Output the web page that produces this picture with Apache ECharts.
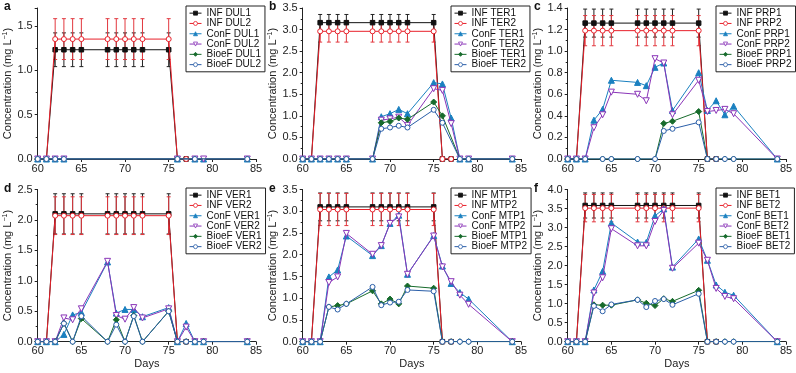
<!DOCTYPE html>
<html>
<head>
<meta charset="utf-8">
<script src="https://cdn.jsdelivr.net/npm/echarts@6/dist/echarts.min.js"></script>
<style>
  html, body { margin: 0; padding: 0; background: #fff; }
  #chart { width: 796px; height: 373px; }
</style>
</head>
<body>
<div id="chart"></div>
<script>
// sampling days
const infDays = [60, 61, 62, 63, 64, 65, 68, 69, 70, 71, 72, 75, 76, 77];
const errDays = [62, 63, 64, 65, 68, 69, 70, 71, 72, 75];
const effDays = [60, 61, 62, 63, 64, 65, 68, 69, 70, 71, 72, 75, 76, 77, 78, 79, 84];
const n = null;

// a - DUL
const infDUL1 = [0, 0, 1.23, 1.23, 1.23, 1.23, 1.23, 1.23, 1.23, 1.23, 1.23, 1.23, 0, 0];
const infDUL2 = [0, 0, 1.35, 1.35, 1.35, 1.35, 1.35, 1.35, 1.35, 1.35, 1.35, 1.35, 0, 0];
const sdDUL = [0.19, 0.23];
const conDUL1 = [0, 0, 0, 0, n, n, n, n, n, n, n, n, 0, n, 0, 0, 0];
const conDUL2 = [0, 0, 0, 0, n, n, n, n, n, n, n, n, 0, n, 0, 0, 0];
const bioDUL1 = [0, 0, 0, 0, n, n, n, n, n, n, n, n, 0, n, 0, n, 0];
const bioDUL2 = [0, 0, 0, 0, n, n, n, n, n, n, n, n, 0, n, 0, n, 0];

// b - TER
const infTER1 = [0, 0, 3.16, 3.16, 3.16, 3.16, 3.16, 3.16, 3.16, 3.16, 3.16, 3.16, 0, 0];
const infTER2 = [0, 0, 2.96, 2.96, 2.96, 2.96, 2.96, 2.96, 2.96, 2.96, 2.96, 2.96, 0, 0];
const sdTER = [0.19, 0.25];
const conTER1 = [0, 0, 0, 0, 0, 0, 0, 0.98, 1.05, 1.15, 1.05, 1.77, 1.74, 0.95, 0, 0, 0];
const conTER2 = [0, 0, 0, 0, 0, 0, 0, 0.90, 0.93, 0.97, 0.78, 1.63, 1.59, 0.82, 0, 0, 0];
const bioTER1 = [0, 0, 0, 0, 0, 0, 0, 0.84, 0.87, 0.95, 0.92, 1.32, 1.00, n, 0, 0, 0];
const bioTER2 = [0, 0, 0, 0, 0, 0, 0, 0.70, 0.73, 0.77, 0.73, 1.14, 0.84, n, 0, 0, 0];

// c - PRP
const infPRP1 = [0, 0, 1.26, 1.26, 1.26, 1.26, 1.26, 1.26, 1.26, 1.26, 1.26, 1.26, 0, 0];
const infPRP2 = [0, 0, 1.19, 1.19, 1.19, 1.19, 1.19, 1.19, 1.19, 1.19, 1.19, 1.19, 0, 0];
const sdPRP = [0.13, 0.14];
const conPRP1 = [0, 0, 0, 0.36, 0.46, 0.73, 0.71, 0.68, 0.85, 0.89, 0.45, 0.80, 0.45, 0.54, 0.41, 0.49, 0];
const conPRP2 = [0, 0, 0, 0.29, 0.41, 0.62, 0.60, 0.54, 0.93, 0.89, 0.41, 0.73, 0.44, 0.45, 0.46, 0.42, 0];
const bioPRP1 = [0, 0, 0, n, 0, 0, 0, n, 0, 0.33, 0.35, 0.44, 0, 0, 0, 0, 0];
const bioPRP2 = [0, 0, 0, n, 0, 0, 0, n, 0, 0.26, 0.28, 0.34, 0, 0, 0, 0, 0];

// d - VER
const infVER1 = [0, 0, 2.10, 2.10, 2.10, 2.10, 2.10, 2.10, 2.10, 2.10, 2.10, 2.10, 0, 0];
const infVER2 = [0, 0, 2.07, 2.07, 2.07, 2.07, 2.07, 2.07, 2.07, 2.07, 2.07, 2.07, 0, 0];
const sdVER = [0.33, 0.31];
const conVER1 = [0, 0, 0, 0.12, 0.44, 0.48, 1.31, 0.47, 0.53, 0.53, 0.41, 0.56, 0, 0.30, 0, 0, 0];
const conVER2 = [0, 0, 0, 0.39, 0.36, 0.54, 1.32, 0.43, 0.37, 0.56, 0.39, 0.54, 0, 0.24, 0, 0, 0];
const bioVER1 = [0, 0, 0, 0.30, 0, 0.38, 0, 0.36, 0, 0.43, 0, 0.50, 0, 0, 0, 0, 0];
const bioVER2 = [0, 0, 0, 0.30, 0, 0.42, 0, 0.28, 0, 0.42, 0, 0.50, 0, 0, 0, 0, 0];

// e - MTP
const infMTP1 = [0, 0, 3.10, 3.10, 3.10, 3.10, 3.10, 3.10, 3.10, 3.10, 3.10, 3.10, 0, 0];
const infMTP2 = [0, 0, 3.04, 3.04, 3.04, 3.04, 3.04, 3.04, 3.04, 3.04, 3.04, 3.04, 0, 0];
const sdMTP = [0.32, 0.37];
const conMTP1 = [0, 0, 0, 1.49, 1.65, 2.43, 1.98, 2.21, 2.72, 2.91, 1.55, 2.44, 1.74, 1.34, 1.13, 0.98, 0];
const conMTP2 = [0, 0, 0, 1.36, 1.49, 2.49, 2.01, 2.21, 2.72, 2.87, 1.55, 2.43, 1.72, 1.38, 1.07, 0.86, 0];
const bioMTP1 = [0, 0, 0, 0.80, 0.83, 0.87, 1.17, 0.87, 0.98, 0.87, 1.28, 1.23, 0, 0, 0, 0, 0];
const bioMTP2 = [0, 0, 0, 0.80, 0.74, 0.87, 1.26, 0.84, 0.90, 0.92, 1.19, 1.16, 0, 0, 0, 0, 0];

// f - BET
const infBET1 = [0, 0, 3.58, 3.58, 3.58, 3.58, 3.58, 3.58, 3.58, 3.58, 3.58, 3.58, 0, 0];
const infBET2 = [0, 0, 3.51, 3.51, 3.51, 3.51, 3.51, 3.51, 3.51, 3.51, 3.51, 3.51, 0, 0];
const sdBET = [0.33, 0.36];
const conBET1 = [0, 0, 0, 1.36, 1.85, 3.12, 2.62, 2.61, 3.31, 3.49, 1.96, 2.70, 2.14, 1.49, 1.30, 1.22, 0];
const conBET2 = [0, 0, 0, 1.28, 1.68, 2.97, 2.52, 2.52, 3.16, 3.45, 1.93, 2.59, 2.14, 1.40, 1.19, 1.13, 0];
const bioBET1 = [0, 0, 0, 0.97, 0.96, 0.96, 1.10, 1.01, 0.95, 1.13, 1.06, 1.35, 0, 0, 0, 0, 0];
const bioBET2 = [0, 0, 0, 0.94, 0.80, 0.98, 1.10, 0.91, 1.07, 1.12, 0.97, 1.26, 0, 0, 0, 0, 0];

const panels = [
  { tag: 'DUL', letter: 'a', ymax: 1.7, yint: 0.5, inf: [infDUL1, infDUL2], sd: sdDUL, eff: [conDUL1, conDUL2, bioDUL1, bioDUL2] },
  { tag: 'TER', letter: 'b', ymax: 3.5, yint: 0.5, inf: [infTER1, infTER2], sd: sdTER, eff: [conTER1, conTER2, bioTER1, bioTER2] },
  { tag: 'PRP', letter: 'c', ymax: 1.4, yint: 0.2, inf: [infPRP1, infPRP2], sd: sdPRP, eff: [conPRP1, conPRP2, bioPRP1, bioPRP2] },
  { tag: 'VER', letter: 'd', ymax: 2.5, yint: 0.5, inf: [infVER1, infVER2], sd: sdVER, eff: [conVER1, conVER2, bioVER1, bioVER2] },
  { tag: 'MTP', letter: 'e', ymax: 3.5, yint: 0.5, inf: [infMTP1, infMTP2], sd: sdMTP, eff: [conMTP1, conMTP2, bioMTP1, bioMTP2] },
  { tag: 'BET', letter: 'f', ymax: 4.0, yint: 0.5, inf: [infBET1, infBET2], sd: sdBET, eff: [conBET1, conBET2, bioBET1, bioBET2] }
];

const FONT = 'Liberation Sans, Arial, sans-serif';
const invTri = 'path://M0,0 L10,0 L5,9 Z';

// INF1, INF2, ConF1, ConF2, BioeF1, BioeF2
const styles = [
  { color: '#111111', symbol: 'rect', size: 4.5, fill: '#111111' },
  { color: '#e8202a', symbol: 'circle', size: 5, fill: '#ffffff' },
  { color: '#1a80c0', symbol: 'triangle', size: 6, fill: '#1a80c0' },
  { color: '#8a35b8', symbol: invTri, size: 6, fill: '#ffffff' },
  { color: '#176b2c', symbol: 'diamond', size: 6, fill: '#176b2c' },
  { color: '#2a5ea8', symbol: 'circle', size: 5, fill: '#ffffff' }
];

const plotLeft = [37.7, 302.7, 567.7];
const plotW = 218.3;
const rowTop = [8, 189.5];
const rowH = [151, 152.2];
const legLeft = [186, 451, 716];
const legTop = [6, 188];

function errorItem(color) {
  return function (params, api) {
    const x = api.value(0);
    const lo = api.coord([x, api.value(1)]);
    const hi = api.coord([x, api.value(2)]);
    const style = { stroke: color, lineWidth: 1 };
    return {
      type: 'group',
      children: [
        { type: 'line', shape: { x1: lo[0], y1: lo[1], x2: hi[0], y2: hi[1] }, style: style },
        { type: 'line', shape: { x1: hi[0] - 2, y1: hi[1], x2: hi[0] + 2, y2: hi[1] }, style: style },
        { type: 'line', shape: { x1: lo[0] - 2, y1: lo[1], x2: lo[0] + 2, y2: lo[1] }, style: style }
      ]
    };
  };
}

const grid = [], xAxis = [], yAxis = [], legend = [], series = [], graphic = [];

panels.forEach((p, i) => {
  const col = i % 3, row = Math.floor(i / 3);
  grid.push({ left: plotLeft[col], top: rowTop[row], width: plotW, height: rowH[row] });
  xAxis.push({
    type: 'value', gridIndex: i, min: 60, max: 85, interval: 5,
    name: row === 1 ? 'Days' : '', nameLocation: 'middle', nameGap: 17,
    nameTextStyle: { fontFamily: FONT, fontSize: 11, color: '#222' },
    axisLine: { lineStyle: { color: '#222', width: 1 } },
    axisTick: { length: 3, lineStyle: { color: '#222' } },
    axisLabel: { fontFamily: FONT, fontSize: 11, color: '#222', margin: 4 },
    splitLine: { show: false }
  });
  yAxis.push({
    type: 'value', gridIndex: i, min: 0, max: p.ymax, interval: p.yint,
    name: 'Concentration (mg L{s|−1})', nameLocation: 'middle', nameGap: 21,
    nameTextStyle: {
      fontFamily: FONT, fontSize: 11, color: '#222',
      rich: { s: { fontFamily: FONT, fontSize: 7, color: '#222', verticalAlign: 'top', padding: [0, 0, 6, 0] } }
    },
    axisLine: { show: true, lineStyle: { color: '#222', width: 1 } },
    axisTick: { show: true, length: 3, lineStyle: { color: '#222' } },
    minorTick: { show: true, splitNumber: 2, length: 2, lineStyle: { color: '#222' } },
    axisLabel: {
      fontFamily: FONT, fontSize: 11, color: '#222', margin: 5,
      showMaxLabel: p.ymax === 1.7 ? false : true,
      formatter: v => v.toFixed(1)
    },
    splitLine: { show: false }
  });

  const names = [
    'INF ' + p.tag + '1', 'INF ' + p.tag + '2',
    'ConF ' + p.tag + '1', 'ConF ' + p.tag + '2',
    'BioeF ' + p.tag + '1', 'BioeF ' + p.tag + '2'
  ];
  legend.push({
    data: names.map((nm, k) => ({
      name: nm,
      itemStyle: { color: styles[k].fill, borderColor: styles[k].color, borderWidth: 0.8 },
      lineStyle: { color: styles[k].color, width: 1 }
    })),
    orient: 'vertical', left: legLeft[col], top: legTop[row],
    itemWidth: 12, itemHeight: 5, itemGap: 0,
    padding: [2, 4, 2, 3],
    backgroundColor: '#fff', borderColor: '#222', borderWidth: 1,
    textStyle: { fontFamily: FONT, fontSize: 10, color: '#111', lineHeight: 10.3 },
    selectedMode: false
  });

  const allVals = [p.inf[0], p.inf[1], p.eff[0], p.eff[1], p.eff[2], p.eff[3]];
  allVals.forEach((vals, k) => {
    const s = styles[k];
    const days = k < 2 ? infDays : effDays;
    series.push({
      type: 'line', name: names[k], xAxisIndex: i, yAxisIndex: i,
      data: days.map((d, j) => [d, vals[j]]),
      connectNulls: true,
      symbol: s.symbol, symbolSize: s.size, showAllSymbol: true,
      lineStyle: { color: s.color, width: 1 },
      itemStyle: { color: s.fill, borderColor: s.color, borderWidth: 1 },
      z: 2 + k
    });
  });
  // error bars of influent
  p.inf.forEach((vals, k) => {
    const sd = p.sd[k];
    series.push({
      type: 'custom', name: 'err' + names[k], xAxisIndex: i, yAxisIndex: i,
      renderItem: errorItem(k === 0 ? '#222' : '#e2383f'),
      encode: { x: 0, y: [1, 2] },
      data: errDays.map(d => {
        const v = vals[infDays.indexOf(d)];
        return [d, v - sd, v + sd];
      }),
      silent: true, z: 1
    });
  });

  graphic.push({
    type: 'text', left: col * 265 + 4, top: row === 0 ? 1 : 183,
    style: { text: p.letter, fontFamily: FONT, fontSize: 12, fontWeight: 'bold', fill: '#111' }
  });
});

const chart = echarts.init(document.getElementById('chart'), null, { renderer: 'canvas' });
chart.setOption({
  animation: false,
  backgroundColor: '#fff',
  grid: grid,
  xAxis: xAxis,
  yAxis: yAxis,
  legend: legend,
  series: series,
  graphic: graphic
});
</script>
</body>
</html>
